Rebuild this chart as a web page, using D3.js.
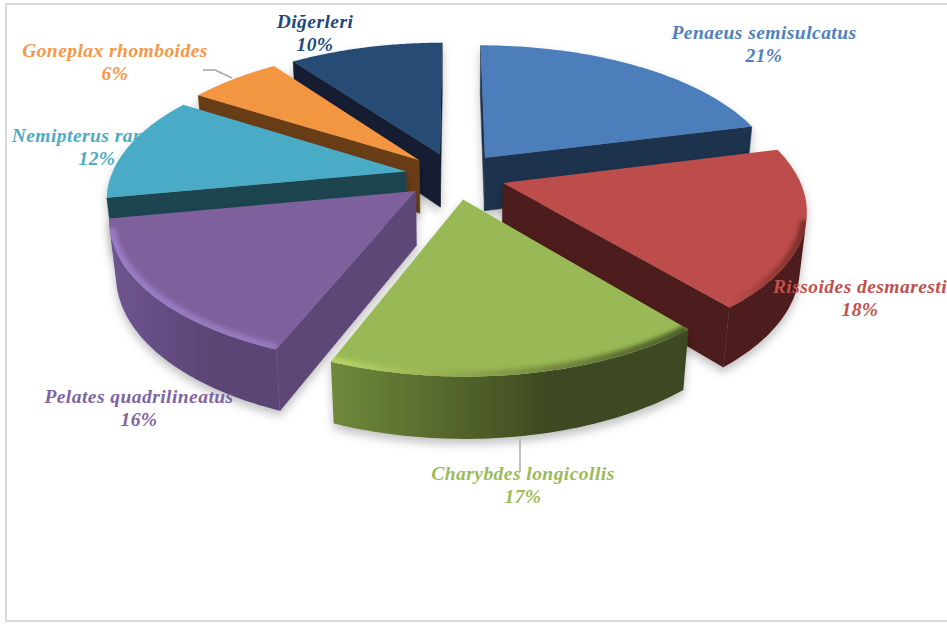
<!DOCTYPE html>
<html><head><meta charset="utf-8">
<style>html,body{margin:0;padding:0;background:#fff;overflow:hidden}svg{display:block}</style>
<script src="https://cdn.jsdelivr.net/npm/d3@7"></script></head>
<body><svg id="c" width="947" height="625"></svg>
<script>
const categories = ["Penaeus semisulcatus","Rissoides desmaresti","Charybdes longicollis","Pelates quadrilineatus","Nemipterus randalli","Goneplax rhomboides","Diğerleri"];
const values = [21,18,17,16,12,6,10];

const topColors   = ["#4C7EBB","#BD4E4B","#98B954","#7E619D","#4AABC6","#F39642","#284B74"];
const labelColors = ["#4F81BD","#C0504D","#9BBB59","#8064A2","#4BACC6","#F79646","#1F497D"];
const wallLeft    = ["#1F334D","#4D1D1C","#6F893A","#6E5590","#1F444F","#693C19","#121F30"];
const wallRight   = ["#1F334D","#4D1D1C","#3D4820","#5A4575","#1F444F","#693C19","#121F30"];
const cutColors   = ["#1F334D","#4D1D1C","#3D4820","#5C4776","#1F444F","#693C19","#121F30"];
const rimLeft     = ["#4C7EBB","#BD4E4B","#B9D566","#9A7CC6","#5CC6E2","#F39642","#284B74"];
const rimRight    = ["#4C7EBB","#7A2C2A","#4A5A28","#9478BC","#4AABC6","#F39642","#284B74"];
const labelX = [764,860,523,139,97,115,315];
const labelY = [39,293,480,403,142,57,28];
const paintOrder = [6,0,5,4,1,3,2];

const W=947,H=625,cx=455,cy=175.8,R=295,EXPL=50,HGT=62,sinT=0.466,cosT=0.885,D=1520;
const svg=d3.select("#c");
const defs=svg.append("defs");

function project(u,v,z){
  const Y=v*sinT-z*cosT, Z=v*cosT+z*sinT, s=D/(D-Z);
  return [cx+u*s, cy+Y*s];
}
const line=d3.line();
const area=p=>{let a=0;p.forEach((q,i)=>{const r=p[(i+1)%p.length];a+=q[0]*r[1]-r[0]*q[1];});return a/2;};

const f=defs.append("filter").attr("id","sh").attr("x","-20%").attr("y","-20%").attr("width","140%").attr("height","140%");
f.append("feDropShadow").attr("dx",0).attr("dy",5).attr("stdDeviation",5).attr("flood-color","#000").attr("flood-opacity",0.25);
defs.append("filter").attr("id","soft").append("feGaussianBlur").attr("stdDeviation",2);

svg.append("rect").attr("x",6).attr("y",4).attr("width",W+20).attr("height",617)
  .attr("fill","#fff").attr("stroke","#d9d9d9").attr("stroke-width",2);

const arcs=d3.pie().sort(null).value(d=>d).startAngle(0).endAngle(2*Math.PI)(values);
const pieG=svg.append("g");

paintOrder.forEach(i=>{
  const a=arcs[i], mid=(a.startAngle+a.endAngle)/2;
  const ox=Math.sin(mid)*EXPL, oy=-Math.cos(mid)*EXPL;
  const angs=d3.range(0,61).map(k=>a.startAngle+(a.endAngle-a.startAngle)*k/60);
  const P=(ang,r,z)=>project(ox+Math.sin(ang)*r, oy-Math.cos(ang)*r, z);
  const g=pieG.append("g").attr("filter","url(#sh)");

  // cut faces, culled by screen orientation
  [[a.startAngle,1],[a.endAngle,-1]].forEach(([ang,dir])=>{
    const q=[P(ang,0,0),P(ang,R,0),P(ang,R,-HGT),P(ang,0,-HGT)];
    if(area(q)*dir<0) g.append("path").attr("d",line(q)+"Z").attr("fill",cutColors[i]).attr("stroke",cutColors[i]).attr("stroke-width",.5);
  });

  // outer wall
  const xs=[];
  const gradId="w"+i, rimId="r"+i;
  const visible=[];
  for(let k=0;k<60;k++){
    const q=[P(angs[k],R,0),P(angs[k+1],R,0),P(angs[k+1],R,-HGT),P(angs[k],R,-HGT)];
    if(area(q)<0){visible.push(k);xs.push(q[0][0],q[1][0]);}
  }
  if(visible.length){
    const x0=d3.min(xs),x1=d3.max(xs);
    const lg=defs.append("linearGradient").attr("id",gradId).attr("gradientUnits","userSpaceOnUse").attr("x1",x0).attr("x2",x1).attr("y1",0).attr("y2",0);
    lg.append("stop").attr("offset",0).attr("stop-color",wallLeft[i]);
    lg.append("stop").attr("offset",.62).attr("stop-color",wallRight[i]);
    const rg=defs.append("linearGradient").attr("id",rimId).attr("gradientUnits","userSpaceOnUse").attr("x1",x0).attr("x2",x1).attr("y1",0).attr("y2",0);
    rg.append("stop").attr("offset",0).attr("stop-color",rimLeft[i]);
    rg.append("stop").attr("offset",1).attr("stop-color",rimRight[i]);
    const va=d3.range(visible[0],visible[visible.length-1]+2).map(k=>angs[k]);
    const wall=va.map(t=>P(t,R,0)).concat(va.slice().reverse().map(t=>P(t,R,-HGT)));
    g.append("path").attr("d",line(wall)+"Z").attr("fill",`url(#${gradId})`);
    a.rim=va;
  }

  // top face
  const topPts=[project(ox,oy,0)].concat(angs.map(t=>P(t,R,0)));
  g.append("path").attr("d",line(topPts)+"Z").attr("fill",topColors[i]);

  // bevel along the front rim, kept inside the top face
  if(a.rim){
    defs.append("clipPath").attr("id","tc"+i).append("path").attr("d",line(topPts)+"Z");
    g.append("g").attr("clip-path",`url(#tc${i})`).append("path")
      .attr("d",line(a.rim.map(t=>P(t,R-1,0))))
      .attr("fill","none").attr("stroke",`url(#${rimId})`).attr("stroke-width",10).attr("filter","url(#soft)");
  }
});

// leader lines
const leaders=[[[203,70],[215,70],[232,78]],[[520,439],[520,472]]];
svg.append("g").selectAll("path").data(leaders).join("path").attr("d",d=>line(d))
  .attr("fill","none").attr("stroke","#a6a6a6").attr("stroke-width",1.4);

// labels
const lab=svg.append("g").attr("font-family","'Liberation Serif',serif").attr("font-style","italic").attr("font-weight","bold").attr("font-size",19.5).attr("letter-spacing",0.45).attr("text-anchor","middle");
categories.forEach((c,i)=>{
  const t=lab.append("text").attr("fill",labelColors[i]);
  t.append("tspan").attr("x",labelX[i]).attr("y",labelY[i]).text(c);
  t.append("tspan").attr("x",labelX[i]).attr("y",labelY[i]+23).text(values[i]+"%");
});
</script></body></html>
